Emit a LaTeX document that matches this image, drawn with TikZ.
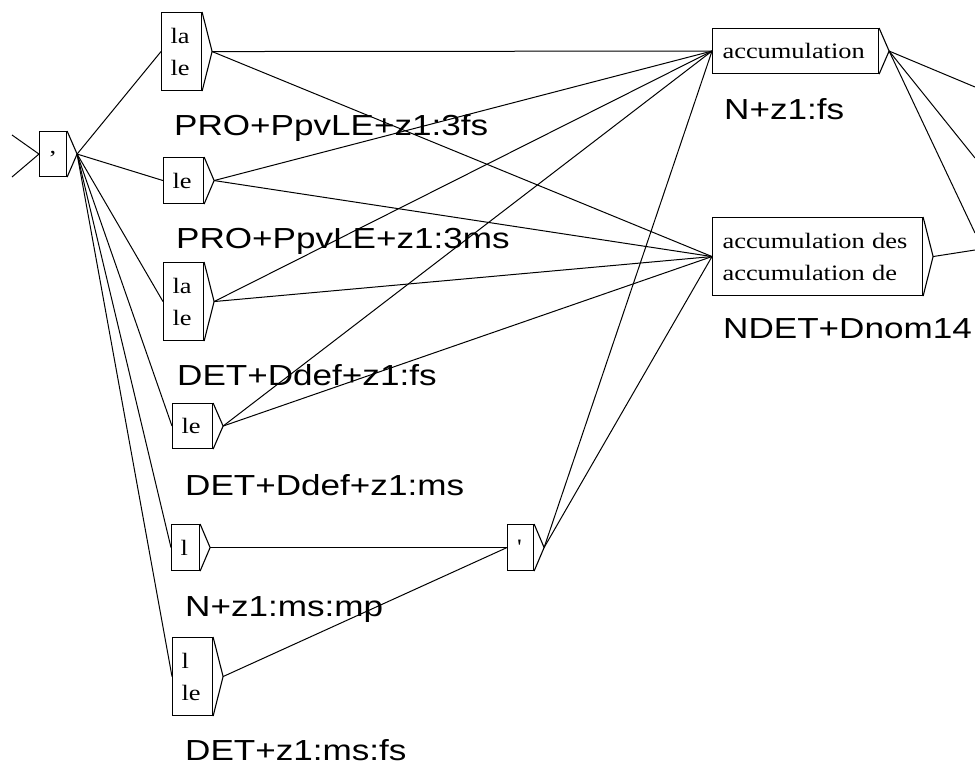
\documentclass[tikz,border=0pt]{standalone}
\usepackage{fontspec}
\newfontfamily\lblfont[FakeStretch=1.21]{Liberation Sans}
\newfontfamily\boxfont[FakeStretch=1.2,Ligatures=TeXOff]{Liberation Serif}
\begin{document}
\begin{tikzpicture}[x=1pt,y=-1pt,
  box/.style={draw,line width=1.1pt,inner ysep=0pt,anchor=north west,align=left,
              font=\boxfont\fontsize{22}{32}\selectfont},
  lbl/.style={anchor=base west,inner sep=0pt,font=\lblfont\fontsize{29}{29}\selectfont},
  conn/.style={line width=1pt},
  tri/.style={line width=1.1pt}]
\fill[white] (0,0) rectangle (975,766);
\useasboundingbox (0,0) rectangle (975,766);

% boxes
\node[box,minimum width=27pt,minimum height=45pt,text width=7pt,inner xsep=10pt] (cm) at (39,131) {,};
\node[box,minimum width=40pt,minimum height=78pt,text width=22pt,inner xsep=9pt] (b1) at (161,12) {la\\le};
\node[box,minimum width=40pt,minimum height=46pt,text width=22pt,inner xsep=9pt] (b2) at (163,157) {le};
\node[box,minimum width=40pt,minimum height=78pt,text width=22pt,inner xsep=9pt] (b3) at (163,262) {la\\le};
\node[box,minimum width=40pt,minimum height=45pt,text width=22pt,inner xsep=9pt] (b4) at (172,403) {le};
\node[box,minimum width=28pt,minimum height=46pt,text width=10pt,inner xsep=9pt] (b5) at (171,524) {l};
\node[box,minimum width=40pt,minimum height=78pt,text width=22pt,inner xsep=9pt] (b6) at (172,637) {l\\le};
\node[box,minimum width=26pt,minimum height=46pt,text width=7pt,inner xsep=9.5pt] (ap) at (507,524) {'};
\node[box,minimum width=166pt,minimum height=45pt,text width=146pt,inner xsep=10pt] (acc) at (712,28) {accumulation};
\node[box,minimum width=210pt,minimum height=78pt,text width=190pt,inner xsep=10pt] (accd) at (712,217) {accumulation des\\accumulation de};

% output triangles
\foreach \n in {cm,b1,b2,b3,b4,b5,b6,ap,acc,accd}{
  \coordinate (\n-o) at ([xshift=10pt]\n.east);
  \draw[tri] (\n.north east) -- (\n-o) -- (\n.south east);
}

% labels
\node[lbl] (l1) at (174,135) {PRO+PpvLE+z1:3fs};
\node[lbl] (l2) at (176,248) {PRO+PpvLE+z1:3ms};
\node[lbl] (l3) at (177,385) {DET+Ddef+z1:fs};
\node[lbl] (l4) at (185,495) {DET+Ddef+z1:ms};
\node[lbl] (l5) at (185,616) {N+z1:ms:mp};
\node[lbl] (l6) at (185,760) {DET+z1:ms:fs};
\node[lbl] (l7) at (724,119) {N+z1:fs};
\node[lbl] (l8) at (723,338) {NDET+Dnom14};

% free ends
\coordinate (i1) at (12,135);
\coordinate (i2) at (12,177);
\coordinate (r1) at (975,87);
\coordinate (r2) at (975,158);
\coordinate (r3) at (975,233);
\coordinate (r4) at (975,250);

% connectors
\draw[conn] (i1) -- (cm.west);
\draw[conn] (i2) -- (cm.west);
\foreach \b in {b1,b2,b3,b4,b5,b6}{\draw[conn] (cm-o) -- (\b.west);}
\foreach \b in {b1,b2,b3,b4,ap}{
  \draw[conn] (\b-o) -- (acc.west);
  \draw[conn] (\b-o) -- (accd.west);
}
\draw[conn] (b5-o) -- (ap.west);
\draw[conn] (b6-o) -- (ap.west);
\draw[conn] (acc-o) -- (r1);
\draw[conn] (acc-o) -- (r2);
\draw[conn] (acc-o) -- (r3);
\draw[conn] (accd-o) -- (r4);
\end{tikzpicture}
\end{document}
